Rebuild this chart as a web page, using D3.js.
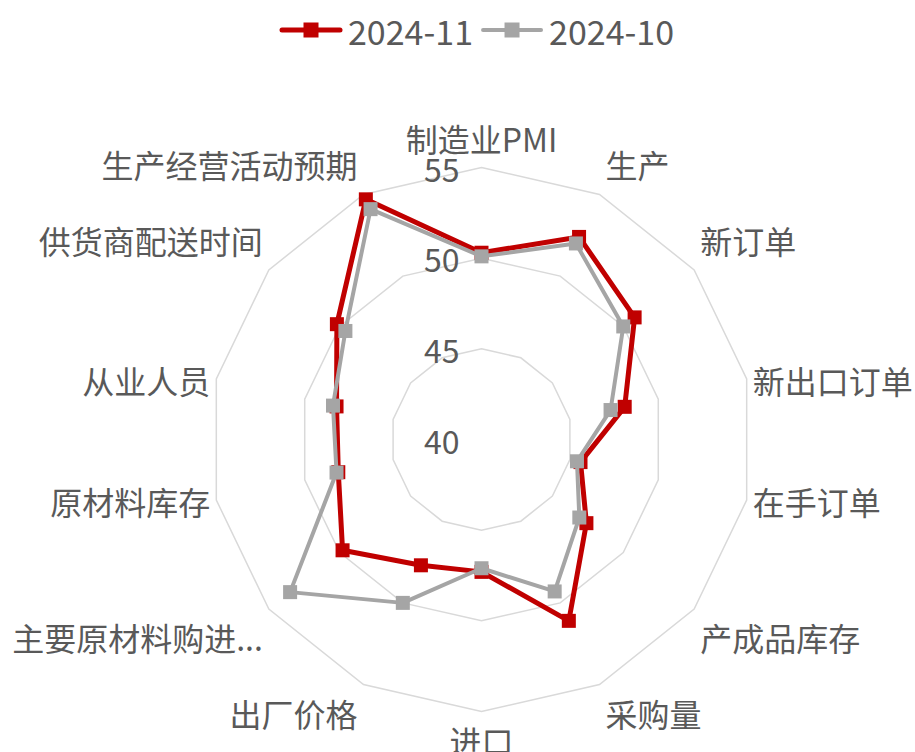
<!DOCTYPE html>
<html>
<head>
<meta charset="utf-8">
<script src="https://cdn.jsdelivr.net/npm/d3@7"></script>
<style>
  html, body { margin: 0; padding: 0; background: #ffffff; }
  svg { display: block; }
  text { font-family: "Noto Sans CJK SC", "Noto Sans", sans-serif; fill: #595959; }
</style>
</head>
<body>
<svg id="chart" width="915" height="752"></svg>
<script>
// PMI sub-index categories (clockwise from the top)
const categories = [
  "制造业PMI", "生产", "新订单", "新出口订单", "在手订单", "产成品库存", "采购量",
  "进口", "出厂价格", "主要原材料购进...", "原材料库存", "从业人员", "供货商配送时间", "生产经营活动预期"
];
const seriesNames = ["2024-11", "2024-10"];
const values202411 = [50.3, 52.4, 50.8, 48.1, 45.6, 47.4, 51.1, 47.3, 47.7, 49.8, 48.1, 48.2, 50.2, 54.7];
const values202410 = [50.1, 52.0, 50.0, 47.3, 45.4, 46.9, 49.3, 47.1, 50.0, 53.5, 48.2, 48.4, 49.6, 54.1];
const tickValues = [40, 45, 50, 55];
const seriesColors = ["#C00000", "#A5A5A5"];

const svg = d3.select("#chart");
const cx = 481.5, cy = 439.5, outerR = 272;

const r = d3.scaleLinear().domain([40, 55]).range([0, outerR]);
const angle = d3.scalePoint().domain(d3.range(categories.length))
  .range([0, 2 * Math.PI * (categories.length - 1) / categories.length]);

const pt = (i, v) => {
  const a = angle(i), rr = r(v);
  return [cx + rr * Math.sin(a), cy - rr * Math.cos(a)];
};

// Grid polygons (the 40 ring collapses to the centre)
const gridG = svg.append("g");
tickValues.filter(t => t > 40).forEach(t => {
  gridG.append("path")
    .attr("d", d3.line()(categories.map((c, i) => pt(i, t))) + "Z")
    .attr("fill", "none")
    .attr("stroke", "#D9D9D9")
    .attr("stroke-width", 1.5);
});

// Tick labels on the left of the vertical axis
svg.append("g").selectAll("text").data(tickValues).join("text")
  .attr("x", cx - 22)
  .attr("y", d => cy - r(d))
  .attr("text-anchor", "end")
  .attr("dominant-baseline", "central")
  .attr("font-size", 32)
  .text(d => d);

// Category labels placed just outside each outer vertex
svg.append("g").selectAll("text").data(categories).join("text")
  .each(function (d, i) {
    const a = angle(i), s = Math.sin(a), c = Math.cos(a);
    const [vx, vy] = pt(i, 55);
    const anchor = Math.abs(s) < 0.1 ? "middle" : (s > 0 ? "start" : "end");
    const x = vx + (Math.abs(s) < 0.1 ? 0 : Math.sign(s) * 6);
    const y = vy + (c > 0.4 ? -30 : (c < -0.4 ? 28 : 1));
    d3.select(this)
      .attr("x", x).attr("y", y)
      .attr("text-anchor", anchor)
      .attr("dominant-baseline", "central")
      .attr("font-size", 32)
      .text(d);
  });

// Series: line + square markers
const allSeries = [values202411, values202410];
allSeries.forEach((vals, si) => {
  const g = svg.append("g");
  const pts = vals.map((v, i) => pt(i, v));
  g.append("path")
    .attr("d", d3.line()(pts) + "Z")
    .attr("fill", "none")
    .attr("stroke", seriesColors[si])
    .attr("stroke-width", si === 0 ? 5 : 4)
    .attr("stroke-linejoin", "round");
  const m = 14;
  g.selectAll("rect").data(pts).join("rect")
    .attr("x", d => d[0] - m / 2)
    .attr("y", d => d[1] - m / 2)
    .attr("width", m).attr("height", m)
    .attr("fill", seriesColors[si]);
});

// Legend
const legend = svg.append("g");
let lx = 282;
const ly = 30;
seriesNames.forEach((name, si) => {
  const g = legend.append("g");
  g.append("line")
    .attr("x1", lx).attr("x2", lx + 58)
    .attr("y1", ly).attr("y2", ly)
    .attr("stroke", seriesColors[si])
    .attr("stroke-width", si === 0 ? 5 : 4)
    .attr("stroke-linecap", "round");
  g.append("rect")
    .attr("x", lx + 29 - 7.5).attr("y", ly - 7.5)
    .attr("width", 15).attr("height", 15)
    .attr("fill", seriesColors[si]);
  const t = g.append("text")
    .attr("x", lx + 66).attr("y", ly)
    .attr("dominant-baseline", "central")
    .attr("font-size", 34)
    .text(name);
  lx += 66 + t.node().getComputedTextLength() + 10;
});
</script>
</body>
</html>
